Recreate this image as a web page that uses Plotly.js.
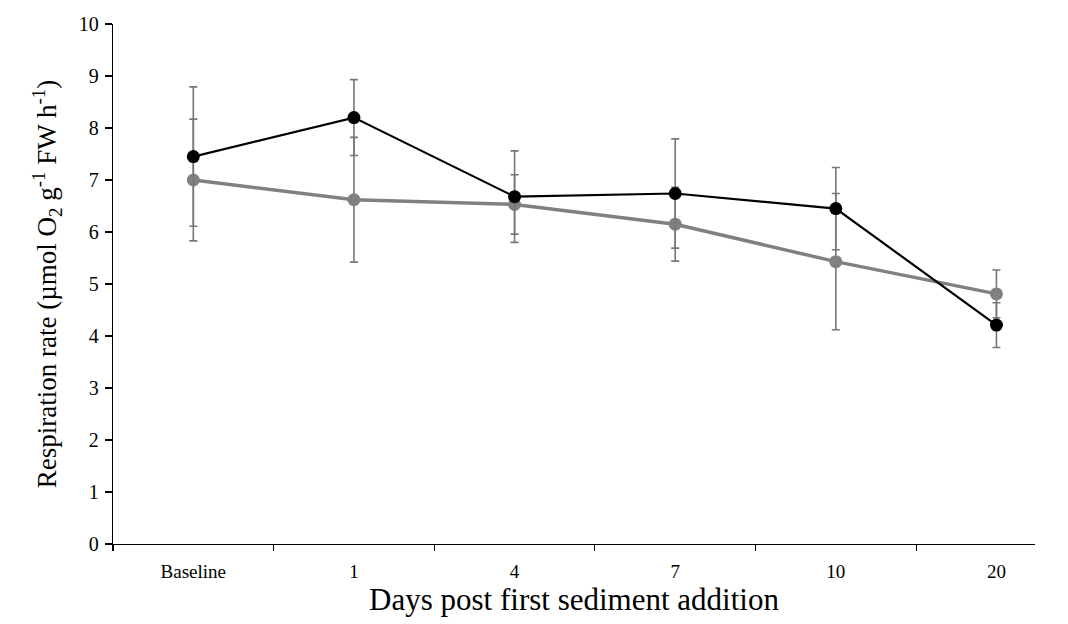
<!DOCTYPE html>
<html>
<head>
<meta charset="utf-8">
<script src="https://cdn.plot.ly/plotly-3.0.1.min.js"></script>
<style>html,body{margin:0;padding:0;background:#fff;}#chart{width:1068px;height:624px;}</style>
</head>
<body>
<div id="chart"></div>
<script>
const categories = ["Baseline", "1", "4", "7", "10", "20"];
const blackValues = [7.45, 8.20, 6.68, 6.74, 6.45, 4.21];
const blackErrors = [1.34, 0.73, 0.88, 1.05, 0.79, 0.43];
const greyValues = [7.00, 6.62, 6.53, 6.15, 5.43, 4.81];
const greyErrors = [1.17, 1.20, 0.57, 0.71, 1.31, 0.46];
const yTickVals = [0, 1, 2, 3, 4, 5, 6, 7, 8, 9, 10];

const errStyle = {type: 'data', visible: true, color: '#777777', thickness: 1.6, width: 4};

const traces = [
  {
    x: categories, y: greyValues, type: 'scatter', mode: 'lines+markers',
    line: {color: '#808080', width: 3.5},
    marker: {color: '#808080', size: 13},
    error_y: Object.assign({array: greyErrors}, errStyle),
    showlegend: false, cliponaxis: false
  },
  {
    x: categories, y: blackValues, type: 'scatter', mode: 'lines+markers',
    line: {color: '#000000', width: 2.2},
    marker: {color: '#000000', size: 13},
    error_y: Object.assign({array: blackErrors}, errStyle),
    showlegend: false, cliponaxis: false
  }
];

const layout = {
  width: 1068, height: 624,
  margin: {l: 113, r: 33, t: 24, b: 80},
  paper_bgcolor: '#ffffff', plot_bgcolor: '#ffffff',
  font: {family: 'Liberation Serif, Times New Roman, serif', color: '#000000'},
  xaxis: {
    type: 'category',
    range: [-0.5, 5.24],
    tickson: 'boundaries',
    ticks: 'outside', ticklen: 6, tickwidth: 1.2, tickcolor: '#000',
    showline: true, linecolor: '#000', linewidth: 1.3,
    showgrid: false, zeroline: false,
    tickfont: {size: 19, family: 'Liberation Serif'},
    ticklabelstandoff: 10,
    title: {text: 'Days post first sediment addition', font: {size: 31, family: 'Liberation Serif'}, standoff: 3}
  },
  yaxis: {
    range: [0, 10],
    tickmode: 'array', tickvals: yTickVals,
    ticks: 'outside', ticklen: 7, tickwidth: 1.2, tickcolor: '#000',
    showline: true, linecolor: '#000', linewidth: 1.3,
    showgrid: false, zeroline: false,
    tickfont: {size: 20, family: 'Liberation Serif'},
    ticklabelstandoff: 2,
    title: {text: 'Respiration rate (µmol O<sub>2</sub> g<sup>-1</sup> FW h<sup>-1</sup>)', font: {size: 27, family: 'Liberation Serif'}, standoff: 14}
  }
};

Plotly.newPlot('chart', traces, layout, {displayModeBar: false, staticPlot: true});
</script>
</body>
</html>
